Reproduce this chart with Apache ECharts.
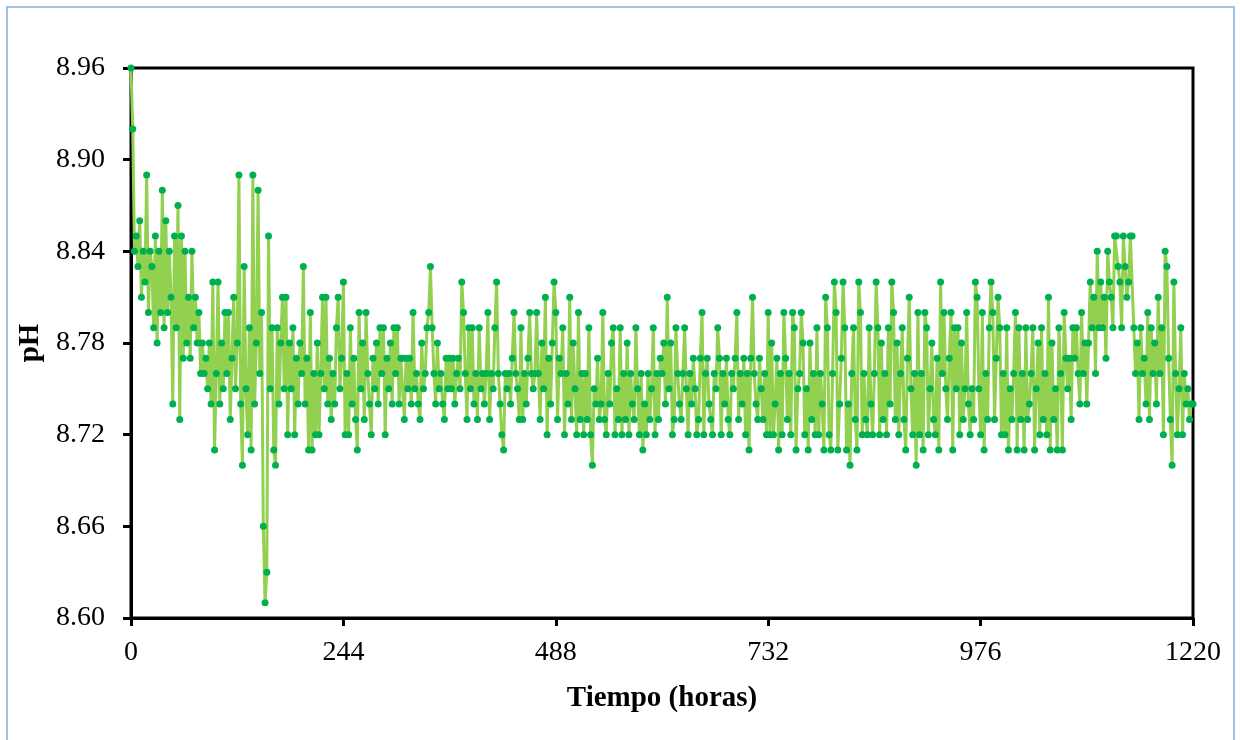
<!DOCTYPE html>
<html>
<head>
<meta charset="utf-8">
<script src="https://cdn.jsdelivr.net/npm/echarts@6/dist/echarts.min.js"></script>
<style>
  html, body { margin: 0; padding: 0; background: #ffffff; }
  #frame { position: absolute; left: 6px; top: 6px; width: 1229px; height: 740px; border: 2px solid #9DC3E6; border-bottom: none; box-sizing: border-box; }
  #chart { position: absolute; left: 0; top: 0; width: 1240px; height: 740px; }
</style>
</head>
<body>
<div id="frame"></div>
<div id="chart"></div>
<script>
// pH readings, one every 2 hours (hours 0 .. 1220)
const stepHours = 2;
const pH_0_120 = [8.96,8.92,8.84,8.85,8.83,8.86,8.81,8.84,8.82,8.89,8.80,8.84,8.83,8.79,8.85,8.78,8.84,8.80,8.88,8.79,8.86,8.80,8.84,8.81,8.74,8.85,8.79,8.87,8.73,8.85,8.77,8.84,8.78,8.81,8.77,8.84,8.79,8.81,8.78,8.80,8.76,8.78,8.76,8.77,8.75,8.78,8.74,8.82,8.71,8.76,8.82,8.74,8.78,8.75,8.80,8.76,8.80,8.73,8.77,8.81,8.75];
const pH_122_242 = [8.78,8.89,8.74,8.70,8.83,8.75,8.72,8.79,8.71,8.89,8.74,8.78,8.88,8.76,8.80,8.66,8.61,8.63,8.85,8.75,8.79,8.71,8.70,8.79,8.74,8.78,8.81,8.75,8.81,8.72,8.78,8.75,8.79,8.72,8.77,8.74,8.78,8.76,8.83,8.74,8.77,8.71,8.80,8.71,8.76,8.72,8.78,8.72,8.76,8.81,8.75,8.81,8.74,8.77,8.73,8.76,8.74,8.79,8.81,8.75,8.77];
const pH_244_364 = [8.82,8.72,8.76,8.72,8.79,8.74,8.77,8.73,8.71,8.80,8.75,8.78,8.73,8.80,8.76,8.74,8.72,8.77,8.75,8.78,8.74,8.79,8.76,8.79,8.72,8.77,8.75,8.78,8.74,8.79,8.76,8.79,8.74,8.77,8.77,8.73,8.77,8.75,8.77,8.74,8.80,8.75,8.76,8.74,8.73,8.78,8.75,8.76,8.79,8.80,8.83,8.79,8.76,8.74,8.78,8.75,8.76,8.74,8.73,8.77,8.75];
const pH_366_486 = [8.77,8.75,8.77,8.74,8.76,8.77,8.75,8.82,8.80,8.76,8.73,8.79,8.75,8.79,8.74,8.76,8.73,8.79,8.75,8.76,8.74,8.76,8.80,8.73,8.76,8.75,8.79,8.82,8.76,8.74,8.72,8.71,8.76,8.75,8.76,8.74,8.77,8.80,8.76,8.75,8.73,8.79,8.73,8.76,8.74,8.77,8.80,8.76,8.75,8.76,8.80,8.76,8.73,8.78,8.75,8.81,8.72,8.77,8.74,8.78,8.82];
const pH_488_608 = [8.80,8.73,8.77,8.76,8.79,8.72,8.76,8.74,8.81,8.73,8.78,8.75,8.72,8.80,8.73,8.76,8.72,8.76,8.73,8.79,8.72,8.70,8.75,8.74,8.77,8.73,8.74,8.80,8.73,8.72,8.76,8.74,8.78,8.79,8.72,8.75,8.73,8.79,8.72,8.76,8.73,8.78,8.72,8.76,8.74,8.73,8.79,8.75,8.72,8.76,8.71,8.74,8.72,8.76,8.73,8.75,8.79,8.72,8.76,8.73,8.77];
const pH_610_730 = [8.76,8.78,8.74,8.81,8.75,8.78,8.72,8.73,8.79,8.76,8.74,8.73,8.76,8.79,8.75,8.72,8.76,8.74,8.77,8.75,8.72,8.73,8.77,8.80,8.72,8.76,8.77,8.74,8.73,8.72,8.76,8.75,8.79,8.77,8.72,8.76,8.74,8.77,8.73,8.72,8.76,8.75,8.77,8.80,8.73,8.76,8.74,8.77,8.72,8.76,8.71,8.77,8.81,8.76,8.74,8.73,8.77,8.75,8.73,8.76,8.72];
const pH_732_852 = [8.80,8.72,8.78,8.72,8.74,8.77,8.71,8.76,8.72,8.80,8.77,8.73,8.76,8.72,8.80,8.79,8.71,8.75,8.76,8.80,8.78,8.72,8.75,8.71,8.78,8.73,8.76,8.72,8.79,8.72,8.76,8.74,8.71,8.81,8.79,8.72,8.71,8.76,8.82,8.80,8.71,8.74,8.77,8.82,8.79,8.71,8.74,8.70,8.76,8.79,8.73,8.71,8.82,8.80,8.72,8.76,8.73,8.72,8.79,8.74,8.72];
const pH_854_974 = [8.76,8.82,8.79,8.72,8.78,8.73,8.76,8.72,8.79,8.74,8.82,8.80,8.73,8.78,8.72,8.76,8.79,8.73,8.71,8.77,8.81,8.75,8.72,8.76,8.70,8.80,8.72,8.76,8.71,8.80,8.79,8.72,8.75,8.78,8.73,8.72,8.77,8.71,8.82,8.76,8.80,8.75,8.73,8.77,8.80,8.71,8.79,8.75,8.79,8.72,8.78,8.73,8.75,8.80,8.74,8.72,8.75,8.73,8.82,8.81,8.75];
const pH_976_1096 = [8.72,8.80,8.71,8.76,8.73,8.79,8.82,8.80,8.73,8.77,8.81,8.79,8.72,8.76,8.72,8.79,8.71,8.75,8.73,8.76,8.80,8.71,8.79,8.73,8.76,8.71,8.79,8.73,8.74,8.76,8.79,8.71,8.75,8.78,8.72,8.79,8.73,8.76,8.72,8.81,8.71,8.78,8.73,8.75,8.71,8.79,8.76,8.71,8.80,8.77,8.75,8.77,8.73,8.79,8.77,8.79,8.76,8.74,8.80,8.76,8.78];
const pH_1098_1220 = [8.74,8.78,8.82,8.79,8.81,8.76,8.84,8.79,8.82,8.79,8.81,8.77,8.84,8.82,8.81,8.79,8.85,8.85,8.83,8.82,8.79,8.85,8.83,8.81,8.82,8.85,8.85,8.79,8.76,8.78,8.73,8.79,8.76,8.77,8.74,8.80,8.73,8.79,8.76,8.78,8.74,8.81,8.76,8.79,8.72,8.84,8.83,8.77,8.73,8.70,8.82,8.76,8.72,8.75,8.79,8.72,8.76,8.74,8.75,8.73,8.74,8.74];

const xTicks = [0, 244, 488, 732, 976, 1220];
const yTicks = [8.60, 8.66, 8.72, 8.78, 8.84, 8.90, 8.96];

const allPH = [].concat(pH_0_120, pH_122_242, pH_244_364, pH_366_486, pH_488_608,
  pH_610_730, pH_732_852, pH_854_974, pH_976_1096, pH_1098_1220);
const seriesData = allPH.map((v, i) => [i * stepHours, v]);

const serif = '"Liberation Serif", "Times New Roman", "DejaVu Serif", serif';
const chart = echarts.init(document.getElementById('chart'), null, { renderer: 'canvas' });
chart.setOption({
  animation: false,
  backgroundColor: 'transparent',
  grid: { left: 131, top: 68, width: 1062, height: 550, show: true, borderColor: '#000', borderWidth: 3, backgroundColor: 'transparent' },
  xAxis: {
    type: 'value',
    min: xTicks[0], max: xTicks[xTicks.length - 1], interval: xTicks[1] - xTicks[0],
    name: 'Tiempo (horas)', nameLocation: 'middle', nameGap: 66,
    nameTextStyle: { fontFamily: serif, fontSize: 29, fontWeight: 'bold', color: '#000' },
    axisLine: { show: true, lineStyle: { color: '#000', width: 3 } },
    axisTick: { show: true, inside: false, length: 8, lineStyle: { color: '#000', width: 3 } },
    axisLabel: { margin: 21, fontFamily: serif, fontSize: 28, color: '#000', formatter: v => String(v) },
    splitLine: { show: false }
  },
  yAxis: {
    type: 'value',
    min: yTicks[0], max: yTicks[yTicks.length - 1], interval: 0.06,
    name: 'pH', nameLocation: 'middle', nameGap: 83, nameRotate: 90,
    nameTextStyle: { fontFamily: serif, fontSize: 29, fontWeight: 'bold', color: '#000' },
    axisLine: { show: true, lineStyle: { color: '#000', width: 3 } },
    axisTick: { show: true, inside: false, length: 8, lineStyle: { color: '#000', width: 3 } },
    axisLabel: { margin: 26, fontFamily: serif, fontSize: 28, color: '#000', formatter: v => v.toFixed(2) },
    splitLine: { show: false }
  },
  series: [{
    type: 'line',
    data: seriesData,
    showSymbol: true,
    showAllSymbol: true,
    symbol: 'circle',
    symbolSize: 7,
    itemStyle: { color: '#00B050', borderWidth: 0 },
    lineStyle: { color: '#92D050', width: 3 },
    emphasis: { disabled: true },
    z: 2
  }]
});
</script>
</body>
</html>
